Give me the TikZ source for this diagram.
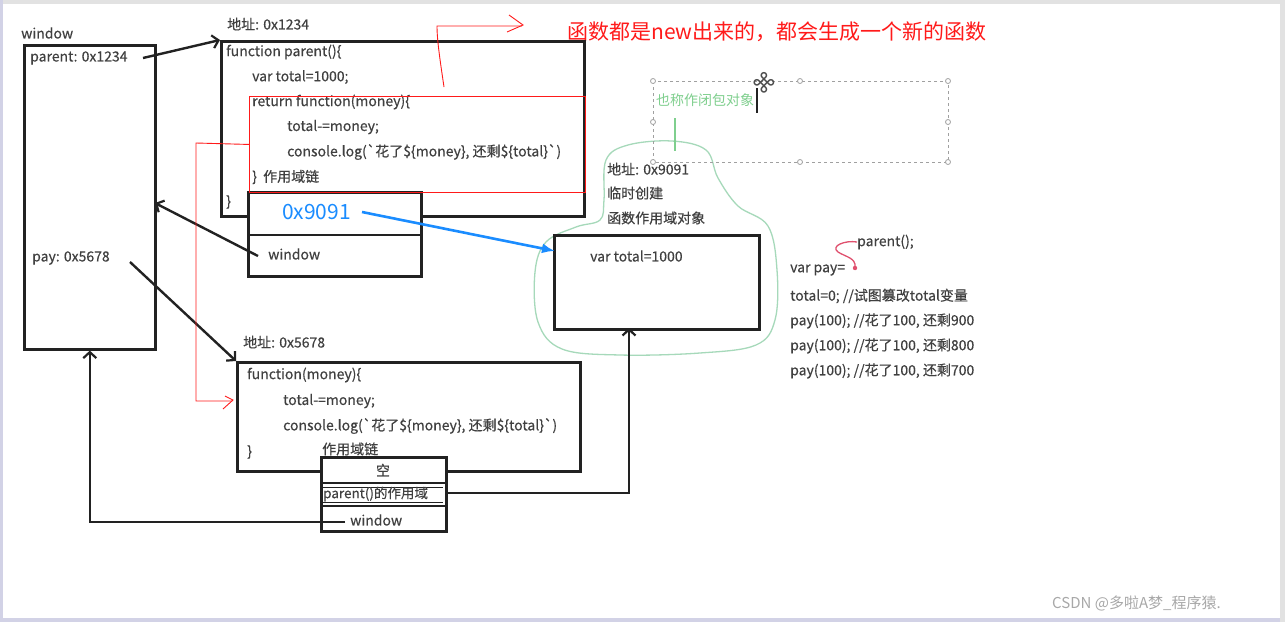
\documentclass[tikz,border=0pt]{standalone}
\usepackage{fontspec}
\usetikzlibrary{arrows.meta}
\newfontfamily\cn{Noto Sans CJK SC}[FakeBold=0.35]
\newfontfamily\cnl{Noto Sans CJK SC}
\newfontfamily\djv{DejaVu Sans}
\definecolor{boxc}{HTML}{222222}
\definecolor{txtc}{HTML}{404040}
\definecolor{redc}{HTML}{FF1A1A}
\definecolor{bluec}{HTML}{1A8CFF}
\definecolor{cloudc}{HTML}{A6D9BA}
\definecolor{greentxt}{HTML}{7FCF8E}
\definecolor{dotc}{HTML}{A0A0A0}
\definecolor{framec}{HTML}{E2E2E2}
\definecolor{lilac}{HTML}{D2D2E6}
\definecolor{wmc}{HTML}{A8A8A8}
\definecolor{pinkc}{HTML}{E0506E}
\tikzset{
  box/.style={draw=boxc, line width=2.6pt, fill=white, inner sep=0pt, anchor=north west},
  txt/.style={text=txtc, font=\cn\fontsize{14}{16}\selectfont, inner sep=0pt, anchor=west},
  conn/.style={draw=boxc, line width=2.4pt},
  tip/.style={-{Straight Barb[length=6pt,width=13pt,line width=2.2pt]}},
  redline/.style={draw=redc, line width=0.9pt},
  handle/.style={circle, draw=dotc, fill=white, line width=0.8pt, inner sep=0pt, minimum size=5pt}
}
\begin{document}
\begin{tikzpicture}[x=1pt,y=-1pt]
\useasboundingbox (0,0) rectangle (1285,622);
\fill[white] (0,0) rectangle (1285,622);
% frame
\fill[framec] (0,0) rectangle (1285,4);
\fill[lilac] (0,0) rectangle (3,622);
\fill[lilac] (0,618) rectangle (1285,622);
\fill[framec] (1280,0) rectangle (1285,622);

% headline
\node[anchor=west, inner sep=0pt, text=redc, font=\cnl\fontsize{21}{23}\selectfont] (head) at (567,32) {函数都是new出来的，都会生成一个新的函数};

% window object
\node[txt] (winlbl) at (21,33) {window};
\node[box, minimum width=131pt, minimum height=304pt] (win) at (23,44) {};
\node[txt] (wparent) at (30,58) {parent: 0x1234};
\node[txt] (wpay) at (32,258) {pay: 0x5678};

% parent function object
\node[txt] (addr1) at (227,24) {地址: 0x1234};
\node[box, minimum width=363pt, minimum height=175pt] (pbox) at (220,40) {};
\node[txt] (c1) at (226,52) {function parent()\{};
\node[txt] (c2) at (252,77) {var total=1000;};
\node[txt] (c3) at (252,102) {return function(money)\{};
\node[txt] (c4) at (287,127) {total-=money;};
\node[txt] (c5) at (287,152) {console.log(`花了\$\{money\}, 还剩\$\{total\}`)};
\node[txt] (c6) at (252,177) {\}\ \ 作用域链};
\node[txt] (c7) at (226,202) {\}};

% scope chain box 1
\node[box, minimum width=173pt, minimum height=84pt] (sc1) at (247,191) {};
\draw[conn] (247,235) -- (420,235);
\node[anchor=west, inner sep=0pt, text=bluec, font=\cnl\fontsize{21}{23}\selectfont] (addrblue) at (282,212) {0x9091};
\node[txt] (sc1w) at (268,254) {window};
% red rectangle
\node[draw=redc, line width=0.9pt, inner sep=0pt, anchor=north west, minimum width=336pt, minimum height=96pt] (rbox) at (249,96) {};

% closure object
\draw[cloudc, line width=1.3pt] plot[smooth cycle, tension=0.6] coordinates {
 (604,200) (606,160) (628,145) (672,141) (706,150) (718,178) (738,206) (768,226)
 (777,270) (775,320) (756,345) (700,353) (620,355) (562,349) (538,322) (535,272)
 (546,242) (576,227) (600,220)};
\node[txt] (addr3) at (607,169) {地址: 0x9091};
\node[txt] (tmp) at (607,193) {临时创建};
\node[txt] (fso) at (607,218) {函数作用域对象};
\node[box, minimum width=205pt, minimum height=94pt] (clo) at (553,234) {};
\node[txt] (clot) at (590,256) {var total=1000};

% selection rectangle
\draw[dotc, line width=0.9pt, dash pattern=on 3pt off 3pt] (653,81) rectangle (948,162);
\node[anchor=west, inner sep=0pt, text=greentxt, font=\cnl\fontsize{14}{16}\selectfont] (alias) at (656,100) {也称作闭包对象};
\foreach \p [count=\i] in {(653,81),(800,81),(948,81),(653,122),(948,122),(653,162),(800,162),(948,162)}
  \node[handle] (h\i) at \p {};
\draw[greentxt, line width=1.2pt] (675,118) -- (675,151);
\draw[boxc, line width=1.4pt] (757,88) -- (757,113);
\node[inner sep=0pt, text=boxc!80, rotate=45, font=\djv\fontsize{22}{22}\selectfont] (move) at (764,83) {⌘};

% inner function object
\node[txt] (addr2) at (243,342) {地址: 0x5678};
\node[box, minimum width=343pt, minimum height=109pt] (fbox) at (236,361) {};
\node[txt] (f1) at (247,375) {function(money)\{};
\node[txt] (f2) at (283,401) {total-=money;};
\node[txt] (f3) at (283,426) {console.log(`花了\$\{money\}, 还剩\$\{total\}`)};
\node[txt] (f4) at (247,452) {\}};
\node[txt] (chain2) at (322,449) {作用域链};

% scope chain box 2
\node[box, minimum width=125pt, minimum height=74pt] (sc2) at (320,456) {};
\draw[conn] (320,483) -- (445,483);
\draw[boxc, line width=0.8pt] (322,487) -- (443,487);
\draw[boxc, line width=0.8pt] (322,502) -- (443,502);
\draw[conn] (320,506) -- (445,506);
\node[text=txtc, font=\cn\fontsize{14}{16}\selectfont, inner sep=0pt] (empty) at (383,470) {空};
\node[txt, font=\cn\fontsize{13.5}{15}\selectfont] (pscope) at (323,494) {parent()的作用域};
\node[txt] (sc2w) at (350,520) {window};

% right code
\node[txt] (r0) at (857,242) {parent();};
\node[txt] (r1) at (790,270) {var pay=};
\node[txt] (r2) at (790,296) {total=0; //试图篡改total变量};
\node[txt] (r3) at (790,321) {pay(100); //花了100, 还剩900};
\node[txt] (r4) at (790,346) {pay(100); //花了100, 还剩800};
\node[txt] (r5) at (790,371) {pay(100); //花了100, 还剩700};
\draw[pinkc, line width=1.3pt] (r0.west) .. controls (845,240) and (830,246) .. (838,252)
  .. controls (846,257) and (856,258) .. (855,267);
\fill[pinkc] (855,268) circle (2.2pt);

% connectors
\coordinate (pa) at (143,58);
\coordinate (wa) at (155,203);
\coordinate (s1w) at (258,256);
\coordinate (pya) at (130,262);
\coordinate (s2w) at (345,522);
\coordinate (s2p) at (445,493);
\coordinate (cb) at (629,328);
\coordinate (b1) at (362,212);
\coordinate (b2) at (555,251);
\draw[conn, tip] (pa) -- (pbox.north west);
\draw[conn, tip] (s1w) -- (wa);
\draw[conn, tip] (pya) -- (fbox.north west);
\draw[conn, tip] (s2w) -| (win.south);
\draw[conn, tip] (s2p) -| (cb);
\draw[bluec, line width=2.6pt, -{Latex[length=13pt,width=10pt]}] (b1) -- (b2);

% red hand-drawn marks
\coordinate (rb1) at (196,143);
\coordinate (rb2) at (196,401);
\coordinate (rb3) at (232,401);
\draw[redline] (rbox.west) -- (rb1) -- (rb2) -- (rb3);
\draw[redline] (225,396) -- (233,400) -- (223,409);
\coordinate (rt0) at (444,87);
\coordinate (rt1) at (437,26);
\coordinate (rt2) at (522,26);
\draw[redline] (rt0) .. controls (440,60) and (437,40) .. (rt1) -- (rt2);
\draw[redline] (509,15) -- (523,25) -- (507,32);

% watermark
\node[anchor=west, inner sep=0pt, text=wmc, font=\cnl\fontsize{15}{17}\selectfont] (wm) at (1052,603) {CSDN @多啦A梦\_程序猿.};
\end{tikzpicture}
\end{document}
